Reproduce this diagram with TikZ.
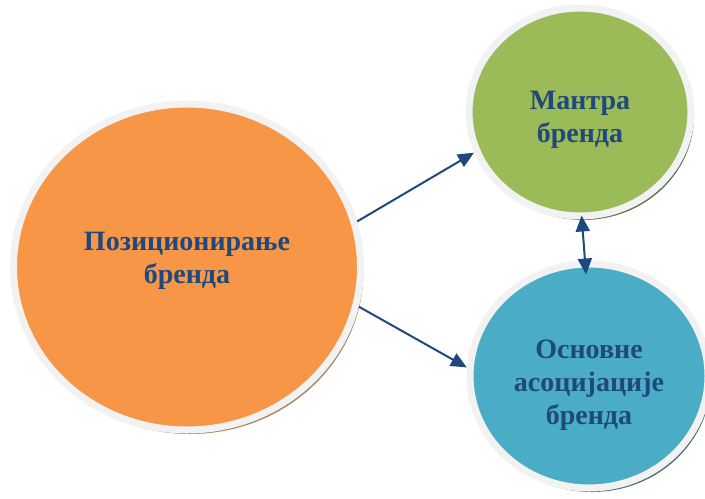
\documentclass[tikz,border=0pt]{standalone}
\usepackage{fontspec}
\setmainfont{Liberation Serif}
\usetikzlibrary{arrows.meta,shapes.geometric,shadows}
\definecolor{textblue}{HTML}{1F497D}
\definecolor{ringgray}{HTML}{F2F2F2}
\definecolor{posorange}{HTML}{F79646}
\definecolor{mantragreen}{HTML}{9BBB59}
\definecolor{assocblue}{HTML}{4BACC6}

\begin{document}
\begin{tikzpicture}[x=0.5pt, y=-0.5pt, >={Triangle[length=8pt, width=7pt]},
    circ/.style={ellipse, draw=ringgray, line width=3.5pt, inner sep=0pt},
    lbl/.style={font=\bfseries\fontsize{14}{16.5}\selectfont, text=textblue, align=center},
    link/.style={draw=textblue, line width=1pt}]
    \useasboundingbox (0,0) rectangle (705,498);
    \node[circ, fill=posorange, minimum width=173.5pt, minimum height=163pt, drop shadow={shadow xshift=1.5pt, shadow yshift=-2pt, fill=brown!75!black!80, opacity=1}] (pos) at (187,267) {};
    \node[circ, fill=mantragreen, minimum width=111pt, minimum height=104pt, drop shadow={shadow xshift=1.5pt, shadow yshift=-2pt, fill=black!45!mantragreen!70!gray, opacity=1}] (mantra) at (580,112) {};
    \node[circ, fill=assocblue, minimum width=119pt, minimum height=112pt, drop shadow={shadow xshift=1.5pt, shadow yshift=-2pt, fill=black!40!assocblue!60!gray, opacity=1}] (assoc) at (589,376) {};

    \node[lbl, yshift=3.25pt] (posText) at (pos) {Позиционирање\\бренда};
    \node[lbl, yshift=-3.75pt] (mantraText) at (mantra) {Мантра\\бренда};
    \node[lbl, yshift=-4.75pt] (assocText) at (assoc) {Основне\\асоцијације\\бренда};

    \draw[link, ->] (pos.15) -- (mantra.201);
    \draw[link, ->] (pos.-13) -- (assoc.176);
    \draw[link, <->, shorten <=-2pt, shorten >=-7pt] (mantra.-89) -- (assoc.92);
\end{tikzpicture}
\end{document}
